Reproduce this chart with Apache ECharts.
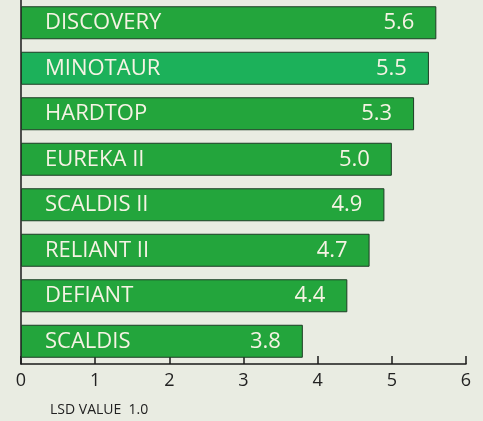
<!DOCTYPE html>
<html>
<head>
<meta charset="utf-8">
<script src="https://cdn.jsdelivr.net/npm/echarts@6/dist/echarts.min.js"></script>
<style>
  html, body { margin: 0; padding: 0; background: #e9ece2; }
  #main { width: 483px; height: 421px; }
</style>
</head>
<body>
<div id="main"></div>
<script>
// 品种名称（从上到下）
var varieties = ['DISCOVERY', 'MINOTAUR', 'HARDTOP', 'EUREKA II', 'SCALDIS II', 'RELIANT II', 'DEFIANT', 'SCALDIS'];
var values = [5.6, 5.5, 5.3, 5.0, 4.9, 4.7, 4.4, 3.8];
var xTicks = [0, 1, 2, 3, 4, 5, 6];
var lsdValue = 1.0;

var barGreen = '#23a53c';
var highlight = '#1cb15a'; // MINOTAUR 颜色稍有不同

var myChart = echarts.init(document.getElementById('main'));

var option = {
    backgroundColor: '#e9ece2',
    animation: false,
    title: {
        text: 'LSD VALUE  ' + lsdValue.toFixed(1),
        left: 45,
        top: 398,
        textStyle: {
            fontFamily: 'Open Sans',
            fontSize: 14,
            fontWeight: 'normal',
            color: '#222'
        }
    },
    grid: {
        left: 21,
        right: 17,
        top: 0,
        bottom: 57,
        containLabel: false
    },
    xAxis: {
        type: 'value',
        min: xTicks[0],
        max: xTicks[xTicks.length - 1],
        interval: 1,
        splitLine: { show: false },
        axisLine: { show: true, lineStyle: { color: '#1a1a1a', width: 1.5 } },
        axisTick: { show: true, inside: true, length: 8, lineStyle: { color: '#1a1a1a', width: 1.5 } },
        axisLabel: {
            margin: 8,
            fontFamily: 'Open Sans',
            fontSize: 18,
            color: '#222'
        }
    },
    yAxis: {
        type: 'category',
        inverse: true,
        data: varieties,
        axisLine: { show: true, lineStyle: { color: '#1a1a1a', width: 1.5 } },
        axisTick: { show: false },
        axisLabel: { show: false }
    },
    series: [
        {
            type: 'bar',
            barWidth: 33,
            data: values.map(function (v, i) {
                return {
                    value: v,
                    itemStyle: { color: i === 1 ? highlight : barGreen }
                };
            }),
            itemStyle: {
                borderColor: '#1d3d25',
                borderWidth: 1
            },
            label: {
                show: true,
                position: 'insideLeft',
                distance: 24,
                formatter: function (p) { return p.name; },
                fontFamily: 'Open Sans',
                fontSize: 22,
                color: '#f6f3e4'
            },
            z: 2
        },
        {
            // 数值标签
            type: 'bar',
            barWidth: 33,
            barGap: '-100%',
            data: values,
            itemStyle: { color: 'transparent' },
            label: {
                show: true,
                position: 'insideRight',
                distance: 22,
                formatter: function (p) { return p.value.toFixed(1); },
                fontFamily: 'Open Sans',
                fontSize: 22,
                color: '#f6f3e4'
            },
            z: 3
        }
    ]
};

myChart.setOption(option);
</script>
</body>
</html>
